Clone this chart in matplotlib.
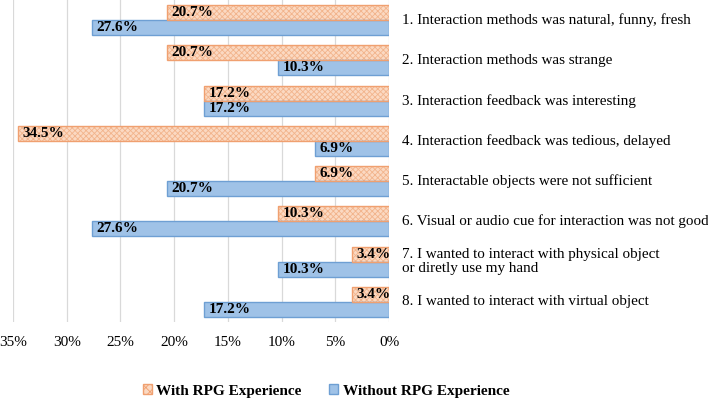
import matplotlib
matplotlib.use("Agg")
import matplotlib.pyplot as plt
from matplotlib.patches import Patch
import numpy as np

categories = [
    "1. Interaction methods was natural, funny, fresh",
    "2. Interaction methods was strange",
    "3. Interaction feedback was interesting",
    "4. Interaction feedback was tedious, delayed",
    "5. Interactable objects were not sufficient",
    "6. Visual or audio cue for interaction was not good",
    "7. I wanted to interact with physical object\nor diretly use my hand",
    "8. I wanted to interact with virtual object",
]
with_rpg = [20.7, 20.7, 17.2, 34.5, 6.9, 10.3, 3.4, 3.4]
without_rpg = [27.6, 10.3, 17.2, 6.9, 20.7, 27.6, 10.3, 17.2]
xticks = [35, 30, 25, 20, 15, 10, 5, 0]

plt.rcParams['font.family'] = ['Liberation Serif', 'DejaVu Serif']
plt.rcParams['hatch.linewidth'] = 0.6

fig = plt.figure(figsize=(7.08, 4.01), dpi=100)
ax = fig.add_axes([13/708, 1 - 322/401, (389 - 13)/708, 322/401])

y = np.arange(len(categories))
h = 0.37
orange_fill = "#FBD9C2"
orange_hatch = "#F2B48C"
orange_edge = "#F0A070"
blue_fill = "#9FC2E7"
blue_edge = "#6E9FD3"

yo = y - h/2
yb = y + h/2
ax.barh(yo, with_rpg, height=h, color=orange_fill, edgecolor=orange_hatch,
        hatch="xxxxxx", linewidth=0, zorder=3)
ax.barh(yo, with_rpg, height=h, fill=False, edgecolor=orange_edge, linewidth=1.0, zorder=4)
ax.barh(yb, without_rpg, height=h, color=blue_fill, edgecolor=blue_edge, linewidth=1.0, zorder=3)

for yi, v in zip(yo, with_rpg):
    ax.text(v - 0.4, yi, f"{v}%", ha="left", va="center", fontsize=11,
            fontweight="bold", zorder=5)
for yi, v in zip(yb, without_rpg):
    ax.text(v - 0.4, yi, f"{v}%", ha="left", va="center", fontsize=11,
            fontweight="bold", zorder=5)

ax.set_xlim(35, 0)
ax.set_ylim(len(categories) - 0.5, -0.5)
ax.set_xticks(xticks)
ax.set_xticklabels([f"{t}%" for t in xticks], fontsize=11)
ax.set_yticks([])
ax.grid(axis="x", color="#D9D9D9", linewidth=0.9, zorder=0)
for s in ax.spines.values():
    s.set_visible(False)
ax.tick_params(axis="x", length=0, pad=10)

for yi, c in zip(y, categories):
    ax.text(-1.2, yi, c, ha="left", va="center", fontsize=10.9, linespacing=1.1,
            clip_on=False)

handles = [
    Patch(facecolor=orange_fill, edgecolor=orange_edge, hatch="xxxx", label="With RPG Experience"),
    Patch(facecolor=blue_fill, edgecolor=blue_edge, label="Without RPG Experience"),
]
fig.legend(handles=handles, loc="center", bbox_to_anchor=(326/708, 1 - 391/401), ncol=2,
           frameon=False, prop={"weight": "bold", "size": 11}, handlelength=0.6,
           handleheight=0.6, handletextpad=0.3, columnspacing=1.8,
           borderpad=0.1)

fig.savefig("out.png", dpi=100)
